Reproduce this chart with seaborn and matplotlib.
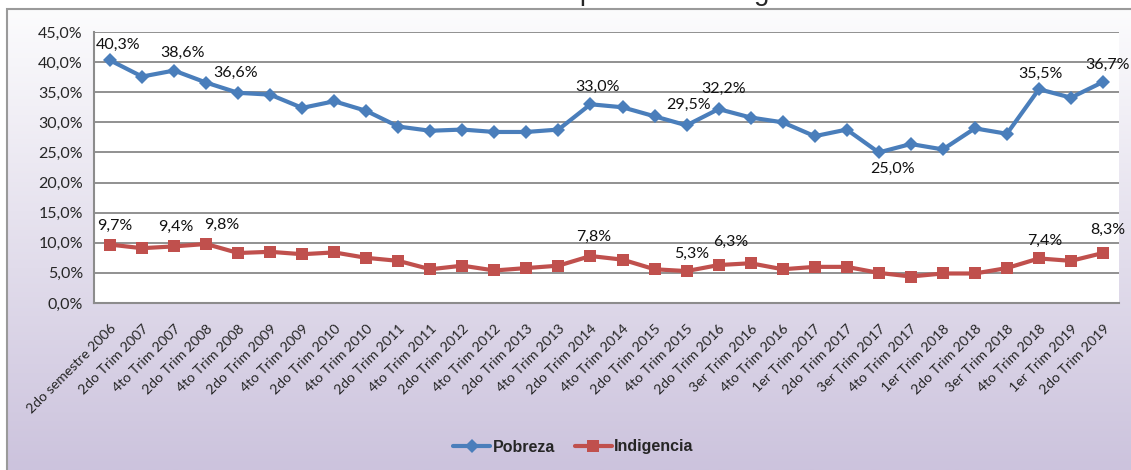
import numpy as np
import pandas as pd
import seaborn as sns
import matplotlib.pyplot as plt
from matplotlib.ticker import FuncFormatter, FixedLocator
from matplotlib.patches import Rectangle

periodos = ['2do semestre 2006', '2do Trim 2007', '4to Trim 2007', '2do Trim 2008', '4to Trim 2008',
            '2do Trim 2009', '4to Trim 2009', '2do Trim 2010', '4to Trim 2010', '2do Trim 2011',
            '4to Trim 2011', '2do Trim 2012', '4to Trim 2012', '2do Trim 2013', '4to Trim 2013',
            '2do Trim 2014', '4to Trim 2014', '2do Trim 2015', '4to Trim 2015', '2do Trim 2016',
            '3er Trim 2016', '4to Trim 2016', '1er Trim 2017', '2do Trim 2017', '3er Trim 2017',
            '4to Trim 2017', '1er Trim 2018', '2do Trim 2018', '3er Trim 2018', '4to Trim 2018',
            '1er Trim 2019', '2do Trim 2019']
pobreza = [40.3, 37.6, 38.6, 36.6, 34.9, 34.6, 32.4, 33.5, 31.9, 29.3, 28.6, 28.8, 28.4, 28.4, 28.8,
           33.0, 32.5, 31.0, 29.5, 32.2, 30.8, 30.0, 27.7, 28.8, 25.0, 26.4, 25.5, 29.0, 28.1, 35.5,
           34.1, 36.7]
indigencia = [9.7, 9.1, 9.4, 9.8, 8.3, 8.5, 8.1, 8.4, 7.5, 7.0, 5.6, 6.2, 5.4, 5.8, 6.2, 7.8, 7.2,
              5.6, 5.3, 6.3, 6.6, 5.6, 6.0, 6.0, 5.0, 4.4, 4.9, 4.9, 5.8, 7.4, 7.0, 8.3]
etiquetas_pobreza = [0, 2, 3, 15, 18, 19, 24, 29, 31]
etiquetas_indigencia = [0, 2, 3, 15, 18, 19, 29, 31]
titulo = 'Evolución de la pobreza e indigencia'

# label offsets in pixels (dx, dy) relative to the point
off_pob = {0: (8, 15), 2: (8, 18), 3: (29, 10), 15: (7, 17), 18: (2, 20), 19: (5, 20),
           24: (14, -16), 29: (2, 15), 31: (5, 17)}
off_ind = {0: (5, 19), 2: (2, 20), 3: (16, 19), 15: (3, 19), 18: (5, 17), 19: (12, 23),
           29: (6, 18), 31: (5, 23)}

sns.set_style("white")
plt.rcParams['font.family'] = ['Lato', 'DejaVu Sans']

W, H = 1131, 470
fig = plt.figure(figsize=(W / 100, H / 100), dpi=100)

# background gradient (white -> lavender)
bg = fig.add_axes([7 / W, 0, 1 - 7 / W, 1 - 9 / H], zorder=-10)
grad = np.linspace(0, 1, 256)[:, None]
top = np.array([252, 252, 253]) / 255
bot = np.array([204, 195, 221]) / 255
img = top[None, None, :] * (1 - grad[:, :, None]) + bot[None, None, :] * grad[:, :, None]
bg.imshow(img, aspect='auto', extent=[0, 1, 0, 1], origin='upper')
bg.set_axis_off()
fig.patches.append(Rectangle((7 / W, -0.1), 1.2, 1.1 - 9 / H, transform=fig.transFigure,
                             fill=False, edgecolor='#9a9a9a', linewidth=1.5, zorder=-5))

ax = fig.add_axes([94 / W, 1 - 303 / H, (1119 - 94) / W, (303 - 32) / H])
ax.set_facecolor('white')

df = pd.DataFrame({
    'pos': list(range(len(periodos))) * 2,
    'valor': pobreza + indigencia,
    'serie': ['Pobreza'] * len(pobreza) + ['Indigencia'] * len(indigencia),
})
colores = {'Pobreza': '#4a7ebb', 'Indigencia': '#c0504d'}
sns.lineplot(data=df, x='pos', y='valor', hue='serie', style='serie', palette=colores,
             markers={'Pobreza': 'D', 'Indigencia': 's'}, dashes=False, linewidth=3,
             markersize=9, markeredgewidth=0, ax=ax, legend=False, zorder=3)
for ln in ax.lines:
    if ln.get_marker() == 'D':
        ln.set_markersize(7.5)

fmt = lambda v: f"{v:.1f}%".replace('.', ',')
for i in etiquetas_pobreza:
    ax.annotate(fmt(pobreza[i]), (i, pobreza[i]), xytext=off_pob[i], textcoords='offset pixels',
                ha='center', va='center', fontsize=11.5, color='#111111', zorder=5,
                annotation_clip=False)
for i in etiquetas_indigencia:
    ax.annotate(fmt(indigencia[i]), (i, indigencia[i]), xytext=off_ind[i], textcoords='offset pixels',
                ha='center', va='center', fontsize=11.5, color='#111111', zorder=5,
                annotation_clip=False)

ax.set_xlim(-0.5, len(periodos) - 0.5)
ax.set_ylim(0, 45)
ax.set_yticks(np.arange(0, 46, 5))
ax.yaxis.set_major_formatter(FuncFormatter(lambda v, p: f"{v:.1f}%".replace('.', ',')))
ax.set_xticks(range(len(periodos)))
ax.set_xticklabels(periodos, rotation=45, ha='right', rotation_mode='anchor', fontsize=10.2)
ax.xaxis.set_minor_locator(FixedLocator(np.arange(-0.5, len(periodos), 1)))
ax.tick_params(axis='x', which='major', length=0, pad=14)
ax.tick_params(axis='x', which='minor', length=5, color='#8c8c8c', width=1.2, direction='out')
ax.tick_params(axis='y', length=5, color='#8c8c8c', width=1.2, direction='out', labelsize=11.5, pad=3)
ax.grid(axis='y', color='#888888', linewidth=1.3)
ax.set_axisbelow(True)
for s in ['top', 'right']:
    ax.spines[s].set_visible(False)
for s in ['left', 'bottom']:
    ax.spines[s].set_color('#8c8c8c')
    ax.spines[s].set_linewidth(1.5)
ax.set_xlabel('')
ax.set_ylabel('')

# legend
handles = [plt.Line2D([], [], color=colores['Pobreza'], lw=3, marker='D', ms=7, mew=0),
           plt.Line2D([], [], color=colores['Indigencia'], lw=3, marker='s', ms=8, mew=0)]
fig.legend(handles, ['Pobreza', 'Indigencia'], loc='center', bbox_to_anchor=(573.5 / W, 1 - 447 / H),
           ncol=2, frameon=False, handlelength=2.3, handletextpad=0.15, columnspacing=1.25,
           prop={'family': ['Liberation Sans', 'DejaVu Sans'], 'weight': 'bold', 'size': 11.5})

# title, mostly cut off by the top edge as in the source
fig.text(384 / W, 1.0, titulo, ha='left', va='baseline', fontsize=20,
         family=['Liberation Sans', 'DejaVu Sans'])

fig.savefig('out.png', dpi=100)
